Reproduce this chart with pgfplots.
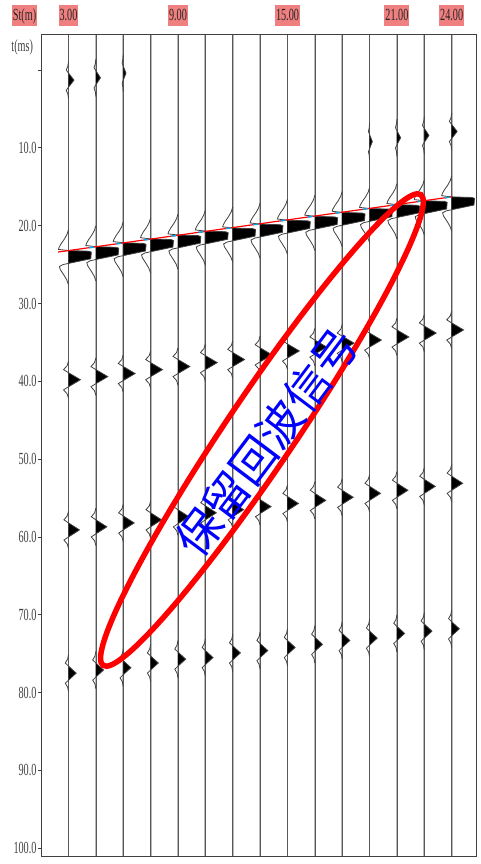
\documentclass[border=0pt]{standalone}
\usepackage{fontspec}
\usepackage{pgfplots}
\usepackage{pgfplotstable}
\pgfplotsset{compat=1.18}
\newfontfamily\cond[FakeStretch=0.6]{Liberation Serif}
\newfontfamily\cjk{Noto Sans CJK SC}
\definecolor{lblbox}{RGB}{240,128,128}

% Ricker-like reflection wavelet (dt in ms, amplitude normalised)
\pgfplotstableread[row sep=\\]{
dt a\\
-2.4 0\\
-1.8 -0.12\\
-1.3 -0.42\\
-0.9 0\\
0 1\\
0.9 0\\
1.3 -0.42\\
1.8 -0.12\\
2.4 0\\
}\ricline
\pgfplotstableread[row sep=\\]{
dt a\\
-0.9 0\\
0 1\\
0.9 0\\
}\ricfill
% first-break wavelet (dt in ms, amplitude in trace units)
\pgfplotstableread[row sep=\\]{
dt a\\
-2.6 0\\
-2.0 -0.08\\
-1.4 -0.22\\
-0.8 -0.4\\
-0.3 -0.52\\
-0.05 -0.55\\
0.1 0\\
0.18 1.1\\
0.3 1.25\\
1.15 1.22\\
1.75 0\\
1.9 -0.3\\
2.15 -0.5\\
2.55 -0.45\\
3.15 -0.28\\
3.85 -0.1\\
4.5 0\\
}\fbline
\pgfplotstableread[row sep=\\]{
dt a\\
0.1 0\\
0.18 1.1\\
0.3 1.25\\
1.15 1.22\\
1.75 0\\
}\fbfill

\pgfplotsset{
  wig/.style={black!75, line width=0.8pt},
  base/.style={black!28, line width=1.8pt},
  basec/.style={black!65, line width=0.5pt},
}
\tikzset{tlab/.style={fill=lblbox, inner xsep=1pt, inner ysep=4pt, text height=12pt, text depth=1pt,
  font=\cond\fontsize{17}{17}\selectfont, text=black!85}}

\newcommand{\wav}[5]{%
  \addplot[fill=black, draw=none] table[x expr={\thisrow{a}*#5+#3}, y expr={\thisrow{dt}+#4}]{#2} -- cycle;
  \addplot[wig] table[x expr={\thisrow{a}*#5+#3}, y expr={\thisrow{dt}+#4}]{#1};
}
\newcommand{\seis}[5]{%
  \wav{\fbline}{\fbfill}{#1}{#2}{1}%
  \wav{\ricline}{\ricfill}{#1}{#3}{0.65}%
  \wav{\ricline}{\ricfill}{#1}{#4}{0.6}%
  \wav{\ricline}{\ricfill}{#1}{#5}{0.42}%
}

\begin{document}
\begin{tikzpicture}
\begin{axis}[
  scale only axis, width=435pt, height=821pt,
  xmin=1.53, xmax=25.37, ymin=-4.5, ymax=101, y dir=reverse,
  clip=false,
  axis line style={black!75, line width=1pt},
  xtick=\empty,
  ytick={0,10,...,100},
  yticklabels={{},10.0,20.0,30.0,40.0,50.0,60.0,70.0,80.0,90.0,100.0},
  ytick pos=left, tick align=outside, major tick length=4pt,
  tick style={black!75, line width=0.7pt},
  yticklabel style={font=\cond\fontsize{17}{17}\selectfont, text=black!75, inner sep=1pt},
]
\pgfplotsinvokeforeach{3,4.5,...,24}{\addplot[base] coordinates {(#1,-4.5) (#1,101)};}
\pgfplotsinvokeforeach{3,4.5,...,24}{\addplot[basec] coordinates {(#1,-4.5) (#1,101)};}

\seis{3}{23.1}{39.8}{59.1}{77.5}
\seis{4.5}{22.6}{39.4}{58.7}{77.1}
\seis{6}{22.1}{39.0}{58.2}{76.8}
\seis{7.5}{21.6}{38.5}{57.8}{76.2}
\seis{9}{21.1}{38.1}{57.4}{75.7}
\seis{10.5}{20.6}{37.6}{56.9}{75.5}
\seis{12}{20.2}{37.2}{56.5}{74.9}
\seis{13.5}{19.7}{36.6}{56.1}{74.6}
\seis{15}{19.2}{36.1}{55.7}{74.2}
\seis{16.5}{18.7}{35.6}{55.3}{73.8}
\seis{18}{18.2}{35.1}{54.9}{73.3}
\seis{19.5}{17.7}{34.7}{54.4}{73.0}
\seis{21}{17.2}{34.3}{54.0}{72.4}
\seis{22.5}{16.7}{33.8}{53.5}{72.1}
\seis{24}{16.2}{33.4}{53.1}{71.8}

% weak shallow arrivals
\wav{\ricline}{\ricfill}{3}{1.3}{0.3}
\wav{\ricline}{\ricfill}{4.5}{1.0}{0.25}
\wav{\ricline}{\ricfill}{6}{0.4}{0.15}
\wav{\ricline}{\ricfill}{19.5}{9.2}{0.15}
\wav{\ricline}{\ricfill}{21}{8.7}{0.2}
\wav{\ricline}{\ricfill}{22.5}{8.4}{0.25}
\wav{\ricline}{\ricfill}{24}{7.9}{0.3}

% first-break pick line
\addplot[red, line width=1.2pt] coordinates {(2.43,23.39) (24,16.3)};
\addplot[cyan, line width=1.4pt, unbounded coords=jump] coordinates {
(4.12,22.834) (4.39,22.746) (nan,nan)
(5.62,22.341) (5.89,22.253) (nan,nan)
(7.12,21.848) (7.39,21.760) (nan,nan)
(8.62,21.355) (8.89,21.267) (nan,nan)
(10.12,20.862) (10.39,20.774) (nan,nan)
(11.62,20.369) (11.89,20.281) (nan,nan)
(13.12,19.876) (13.39,19.787) (nan,nan)
(14.62,19.383) (14.89,19.294) (nan,nan)
(16.12,18.890) (16.39,18.801) (nan,nan)
(17.62,18.397) (17.89,18.308) (nan,nan)
(19.12,17.904) (19.39,17.815) (nan,nan)
(20.62,17.411) (20.89,17.322) (nan,nan)
(22.12,16.918) (22.39,16.829) (nan,nan)
(23.62,16.425) (23.89,16.336)
};

% header labels
\node[tlab] at ([yshift=19.5pt]axis cs:0.59,-4.5) {St(m)};
\node[tlab] at ([yshift=19.5pt]axis cs:3,-4.5) {3.00};
\node[tlab] at ([yshift=19.5pt]axis cs:9,-4.5) {9.00};
\node[tlab] at ([yshift=19.5pt]axis cs:15,-4.5) {15.00};
\node[tlab] at ([yshift=19.5pt]axis cs:21,-4.5) {21.00};
\node[tlab] at ([yshift=19.5pt]axis cs:24,-4.5) {24.00};
\node[anchor=east, inner sep=0pt, font=\cond\fontsize{17}{17}\selectfont, text=black!75]
  at ([xshift=-8.5pt]axis cs:1.53,-2.9) {t(ms)};

\coordinate (bl) at (axis cs:1.53,101);
\coordinate (tr) at (axis cs:25.37,-4.5);
\coordinate (ec) at (axis cs:13.6,46.26);
\coordinate (tc) at (axis cs:13.88,47.87);
\end{axis}
\draw[red, line width=5.5pt, rotate around={56:(ec)}] (ec) ellipse [x radius=284pt, y radius=34.5pt];
\node[rotate=53, text=blue, inner sep=0pt, font=\cjk\fontsize{45}{45}\selectfont] at (tc) {保留回波信号};
\pgfresetboundingbox
\path ([xshift=-41.7pt,yshift=-8pt]bl) rectangle ([xshift=4.3pt,yshift=35pt]tr);
\end{tikzpicture}
\end{document}
